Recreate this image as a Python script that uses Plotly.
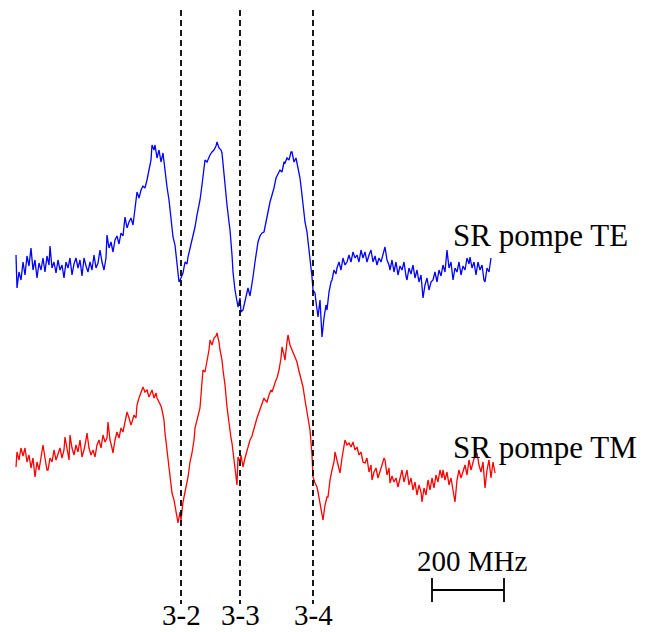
import plotly.graph_objects as go

# Trace data (frequency axis in pixel-like units, signal in arbitrary units; y grows downward)
te_x = [16,17,19,21,23,25,27,29,31,33,35,37,39,41,43,45,47,49,50,52,54,56,58,60,62,64,66,68,70,72,74,76,78,80,82,84,86,88,90,92,94,96,98,100,102,104,106,107,109,111,113,115,117,119,121,123,125,127,129,131,133,135,137,139,141,143,145,147,149,151,152,154,155,157,159,161,163,165,167,169,171,173,175,177,179,181,183,185,187,188,190,192,194,195,197,199,200,202,204,205,207,209,210,212,214,216,217,219,221,222,224,225,227,229,230,232,233,235,237,238,240,241,243,245,247,248,250,252,253,255,257,258,260,262,264,265,267,269,270,272,274,276,278,280,282,284,285,287,289,291,292,294,296,298,300,302,303,305,307,308,310,312,313,315,316,318,320,322,324,326,327,329,331,332,334,336,337,339,341,343,345,347,349,351,353,355,357,359,361,363,365,367,369,371,373,375,377,379,381,383,385,387,389,390,392,394,396,398,400,402,404,406,407,409,411,413,415,417,419,421,423,425,427,429,431,433,435,437,439,441,443,445,447,449,451,453,455,457,459,461,463,465,467,469,470,472,474,476,478,480,482,484,485,487,489,491]
te_y = [255,288,272,280,262,275,256,266,248,270,260,278,263,270,258,272,256,265,246,268,262,273,260,270,265,278,262,268,258,275,264,258,268,260,276,258,266,272,262,270,255,268,263,250,262,270,258,235,248,242,252,240,236,244,233,236,217,228,222,218,225,205,192,198,190,186,188,180,170,160,145,150,145,158,150,162,153,172,187,200,218,237,245,262,282,278,273,262,264,257,248,242,232,227,215,205,200,185,168,160,162,157,155,152,150,146,142,148,150,153,175,190,205,222,230,255,272,290,300,307,298,312,310,300,292,288,296,285,277,262,250,242,236,233,232,227,215,208,202,195,188,178,173,170,172,162,163,158,160,152,152,162,158,167,178,195,207,222,232,240,262,277,290,293,302,317,300,337,318,305,310,292,282,280,270,274,268,262,270,258,265,262,255,262,252,258,255,262,250,258,252,262,255,250,262,256,265,258,262,255,247,260,265,270,260,272,262,275,266,270,262,276,280,268,274,265,278,270,282,275,298,285,278,290,282,280,272,282,270,276,265,272,250,268,262,280,268,272,262,275,266,270,258,264,257,268,262,275,262,270,265,280,282,268,272,258]

tm_x = [16,17,19,21,23,25,27,29,31,33,35,37,39,41,43,45,47,48,50,52,54,56,58,60,62,64,65,67,69,70,72,74,76,78,80,82,84,86,87,89,91,93,95,97,99,101,103,105,107,108,110,112,113,115,117,119,121,123,125,127,129,131,132,134,136,137,139,141,143,145,147,149,150,152,154,156,157,159,161,162,164,165,167,168,170,172,174,175,177,178,180,181,183,185,187,188,190,192,194,195,197,199,200,202,203,205,207,209,210,212,214,216,217,219,220,222,223,225,227,229,231,232,234,235,237,238,240,241,243,245,247,248,250,252,253,255,257,259,260,262,264,265,267,269,271,272,274,276,277,279,281,282,284,285,287,288,290,292,293,295,297,298,300,302,303,305,307,308,310,312,313,315,317,318,320,322,323,325,327,328,330,332,334,335,337,339,340,342,344,345,347,349,351,353,355,357,359,361,363,365,367,369,371,372,374,376,378,380,382,384,385,387,389,390,392,394,396,398,400,402,404,406,407,409,411,413,415,417,419,421,422,424,426,428,430,432,434,436,438,440,442,443,445,447,449,451,453,455,457,459,461,463,465,467,469,471,473,475,477,479,481,483,485,487,489,491,493,495]
tm_y = [467,452,460,448,456,448,462,455,468,458,477,462,470,455,445,458,470,470,458,462,450,460,455,448,458,450,437,448,460,435,448,455,445,452,440,457,450,440,433,448,455,450,457,445,440,448,435,442,438,422,440,448,453,440,432,438,428,432,420,412,418,425,422,415,418,405,398,392,387,392,390,397,395,390,398,393,398,402,406,410,420,433,450,460,472,493,500,507,518,523,512,520,502,490,482,477,462,453,440,428,420,412,408,382,370,372,362,350,340,345,338,336,333,342,350,360,370,385,407,425,438,443,462,470,485,457,462,455,467,458,450,447,440,436,433,425,418,412,410,405,398,400,402,395,390,392,385,380,378,370,358,347,355,360,342,335,345,350,353,358,362,367,375,382,387,400,413,418,430,455,477,483,487,492,505,517,520,505,497,497,480,470,462,452,460,468,473,458,448,440,445,443,447,442,450,447,455,452,462,463,458,472,465,480,472,468,478,470,465,458,460,475,468,483,476,482,478,487,478,470,482,475,470,485,478,490,482,495,485,492,502,488,495,480,490,478,488,475,482,470,478,470,480,472,485,478,490,502,480,470,478,470,465,475,460,470,462,455,453,465,472,462,488,470,460,478,462,473]

transition_x = [181, 240, 313]
transition_labels = ["3-2", "3-3", "3-4"]
trace_labels = ["SR pompe TE", "SR pompe TM"]
trace_label_y = [235, 447]
scale_bar = [432, 504]
scale_label = "200 MHz"

FONT = "Liberation Serif, Times New Roman, serif"
OFF = 8  # page body margin

fig = go.Figure()
fig.add_trace(go.Scatter(x=te_x, y=te_y, mode="lines", line=dict(color="#0000ff", width=1.3), showlegend=False, hoverinfo="skip"))
fig.add_trace(go.Scatter(x=tm_x, y=tm_y, mode="lines", line=dict(color="#ff0000", width=1.3), showlegend=False, hoverinfo="skip"))

shapes = []
annotations = []
for xv, lab in zip(transition_x, transition_labels):
    shapes.append(dict(type="line", xref="x", yref="y", x0=xv, x1=xv, y0=10, y1=604,
                       line=dict(color="black", width=1.8, dash="6px,4px")))
    annotations.append(dict(x=xv, y=615, xref="x", yref="y", text=lab, showarrow=False,
                            font=dict(family=FONT, size=29, color="black"), xanchor="center", yanchor="middle"))

for lab, yv in zip(trace_labels, trace_label_y):
    annotations.append(dict(x=451, y=yv, xref="x", yref="y", text=lab, showarrow=False,
                            font=dict(family=FONT, size=31, color="black"), xanchor="left", yanchor="middle"))

# scale bar
shapes.append(dict(type="line", xref="x", yref="y", x0=scale_bar[0], x1=scale_bar[1], y0=590, y1=590, line=dict(color="black", width=1.8)))
for xv in scale_bar:
    shapes.append(dict(type="line", xref="x", yref="y", x0=xv, x1=xv, y0=578, y1=602, line=dict(color="black", width=1.8)))
annotations.append(dict(x=472, y=561, xref="x", yref="y", text=scale_label, showarrow=False,
                        font=dict(family=FONT, size=29, color="black"), xanchor="center", yanchor="middle"))

fig.update_layout(
    width=645 - OFF, height=632 - OFF,
    margin=dict(l=0, r=0, t=0, b=0),
    paper_bgcolor="white", plot_bgcolor="white",
    xaxis=dict(range=[OFF, 645], visible=False, fixedrange=True),
    yaxis=dict(range=[632, OFF], visible=False, fixedrange=True),
    shapes=shapes, annotations=annotations,
)

fig.write_html("out.html")
